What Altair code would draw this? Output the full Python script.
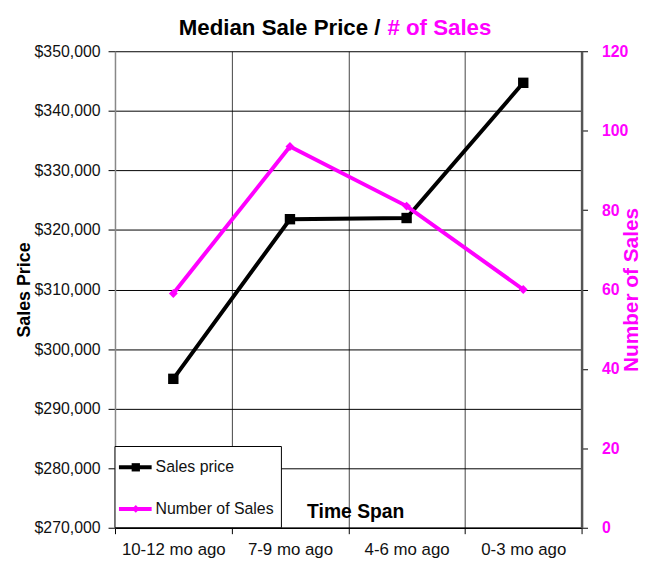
import altair as alt
import pandas as pd

periods = ["10-12 mo ago", "7-9 mo ago", "4-6 mo ago", "0-3 mo ago"]
sales_price = [295000, 321800, 322000, 344700]
num_sales = [59, 96, 81, 60]

legend_labels = ["Sales price", "Number of Sales"]
legend_colors = ["#000000", "#FF00FF"]
legend_shapes = ["square", "diamond"]

MAGENTA = "#FF00FF"
FONT = "Liberation Sans"

df = pd.DataFrame({"period": periods, "price": sales_price, "sales": num_sales})

W, H = 471, 481

x_enc = alt.X(
    "period:N",
    sort=periods,
    scale=alt.Scale(type="band", paddingInner=0, paddingOuter=0),
    axis=alt.Axis(
        title=None,
        tickBand="extent",
        grid=True,
        gridColor="#444444",
        gridWidth=1,
        domainColor="#000000",
        domainWidth=1.5,
        tickColor="#000000",
        tickSize=6,
        labelPadding=8,
        labelFontSize=17,
        labelColor="#111111",
        labelAngle=0,
    ),
)

price_y = alt.Y(
    "price:Q",
    scale=alt.Scale(domain=[270000, 350000], nice=False, zero=False),
    axis=alt.Axis(
        title="Sales Price",
        titleFontSize=18,
        titleFontWeight="bold",
        titleColor="#000000",
        titlePadding=1,
        values=list(range(270000, 350001, 10000)),
        format="$,.0f",
        labelFontSize=16,
        labelColor="#111111",
        labelPadding=8,
        tickSize=7,
        tickColor="#000000",
        domainColor="#888888",
        domainWidth=1.5,
        grid=True,
        gridColor="#000000",
        gridWidth=1,
    ),
)

sales_y = alt.Y(
    "sales:Q",
    scale=alt.Scale(domain=[0, 120], nice=False),
    axis=alt.Axis(
        orient="right",
        title="Number of Sales",
        titleFontSize=21,
        titleFontWeight="bold",
        titleColor=MAGENTA,
        titleAngle=270,
        titlePadding=14,
        values=list(range(0, 121, 20)),
        labelFontSize=16,
        labelFontWeight="bold",
        labelColor=MAGENTA,
        labelPadding=14,
        tickSize=6,
        tickColor="#000000",
        domainColor="#555555",
        domainWidth=2.5,
        grid=False,
    ),
)

base = alt.Chart(df)

sales_layer = alt.layer(
    base.mark_line(color=MAGENTA, strokeWidth=4).encode(x=x_enc, y=sales_y),
    base.mark_point(shape="diamond", filled=True, size=80, color=MAGENTA, opacity=1).encode(x=x_enc, y=sales_y),
)

price_layer = alt.layer(
    base.mark_line(color="#000000", strokeWidth=4).encode(x=x_enc, y=price_y),
    base.mark_point(shape="square", filled=True, size=110, color="#000000", opacity=1).encode(x=x_enc, y=price_y),
)

# title (two colours)
title_df = pd.DataFrame({"t1": ["Median Sale Price /"], "t2": ["# of Sales"], "ax": ["Time Span"]})
title_a = alt.Chart(title_df).mark_text(
    align="right", baseline="alphabetic", fontSize=22.5, fontWeight="bold", color="#000000", font=FONT
).encode(text="t1:N", x=alt.value(268), y=alt.value(-16))
title_b = alt.Chart(title_df).mark_text(
    align="left", baseline="alphabetic", fontSize=22.5, fontWeight="bold", color=MAGENTA, font=FONT
).encode(text="t2:N", x=alt.value(275), y=alt.value(-16))
x_title = alt.Chart(title_df).mark_text(
    align="center", baseline="middle", fontSize=19.5, fontWeight="bold", color="#000000", font=FONT
).encode(text="ax:N", x=alt.value(243), y=alt.value(465))

# legend box
leg_df = pd.DataFrame({"label": legend_labels, "color": legend_colors, "shape": legend_shapes})
legend_layers = [
    alt.Chart(leg_df.iloc[:1]).mark_rect(fill="white", stroke="#000000", strokeWidth=1).encode(
        x=alt.value(0), x2=alt.value(168), y=alt.value(399), y2=alt.value(481)
    )
]
for i in range(len(legend_labels)):
    row = leg_df.iloc[[i]]
    yy = 420 + 42 * i
    legend_layers.append(
        alt.Chart(row).mark_rule(color=legend_colors[i], strokeWidth=4).encode(
            x=alt.value(4), x2=alt.value(37), y=alt.value(yy)
        )
    )
    legend_layers.append(
        alt.Chart(row).mark_point(
            shape=legend_shapes[i], filled=True, size=70 if i == 0 else 60, color=legend_colors[i], opacity=1
        ).encode(x=alt.value(21), y=alt.value(yy))
    )
    legend_layers.append(
        alt.Chart(row).mark_text(align="left", baseline="middle", fontSize=16, color="#111111", font=FONT).encode(
            text="label:N", x=alt.value(41), y=alt.value(yy)
        )
    )

chart = (
    alt.layer(price_layer, sales_layer, title_a, title_b, x_title, *legend_layers)
    .resolve_scale(y="independent")
    .properties(
        width=W,
        height=H,
        autosize=alt.AutoSizeParams(type="none"),
        padding={"left": 108, "top": 41, "right": 62, "bottom": 40},
        background="white",
    )
    .configure(font=FONT)
    .configure_view(stroke=None)
)

chart.save("out.html", embed_options={"renderer": "svg", "actions": False})
